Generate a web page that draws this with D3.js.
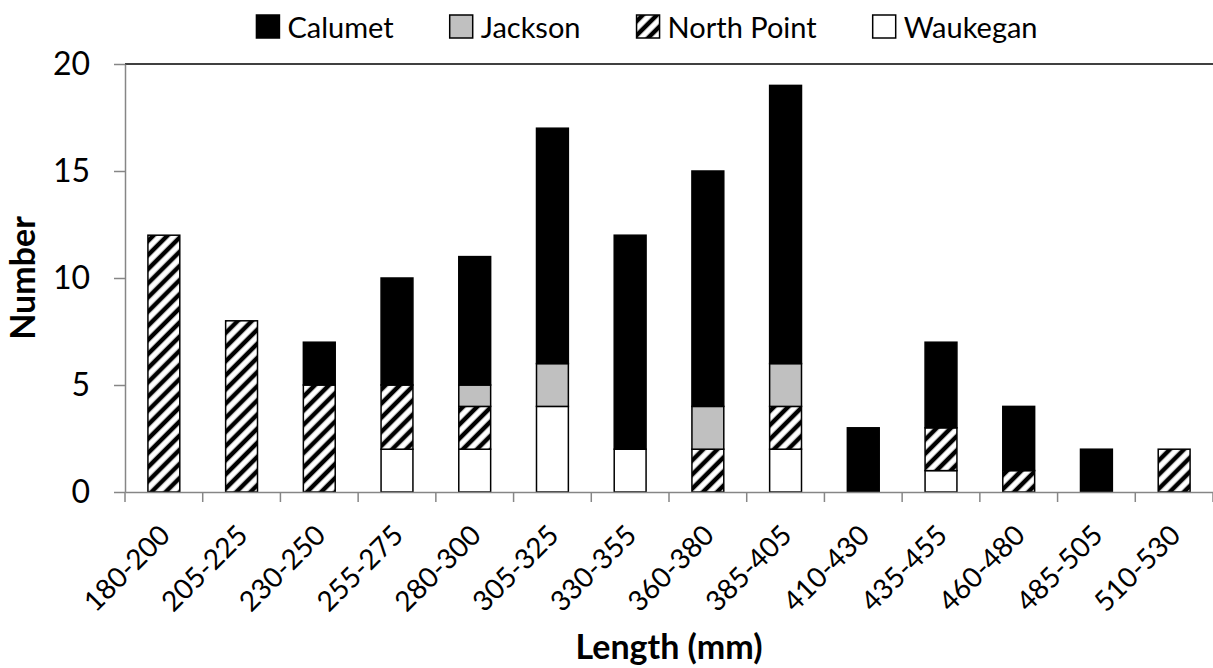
<!DOCTYPE html>
<html>
<head>
<meta charset="utf-8">
<script src="https://cdn.jsdelivr.net/npm/d3@7"></script>
<style>
  html, body { margin: 0; padding: 0; background: #fff; }
  svg { display: block; font-family: Lato, "Open Sans", sans-serif; }
</style>
</head>
<body>
<div id="chart"></div>
<script>
// 길이 구간별 개체 수 (지점별 누적 막대)
const categories = ['180-200', '205-225', '230-250', '255-275', '280-300', '305-325', '330-355',
                    '360-380', '385-405', '410-430', '435-455', '460-480', '485-505', '510-530'];
const waukegan   = [0, 0, 0, 2, 2, 4, 2, 0, 2, 0, 1, 0, 0, 0];
const northPoint = [12, 8, 5, 3, 2, 0, 0, 2, 2, 0, 2, 1, 0, 2];
const jackson    = [0, 0, 0, 0, 1, 2, 0, 2, 2, 0, 0, 0, 0, 0];
const calumet    = [0, 0, 2, 5, 6, 11, 10, 11, 13, 3, 4, 3, 2, 0];
const yTicks = [0, 5, 10, 15, 20];
const legendNames = ['Calumet', 'Jackson', 'North Point', 'Waukegan'];

const width = 1213, height = 668;
const margin = { top: 64, right: 0, bottom: 176, left: 125 };

// 누적 순서: 아래부터 Waukegan → North Point → Jackson → Calumet
const keys = ['Waukegan', 'North Point', 'Jackson', 'Calumet'];
const rows = categories.map((c, i) => ({
    cat: c,
    'Waukegan': waukegan[i],
    'North Point': northPoint[i],
    'Jackson': jackson[i],
    'Calumet': calumet[i]
}));
const series = d3.stack().keys(keys)(rows);

const fills = {
    'Calumet': '#000',
    'Jackson': '#c0c0c0',
    'North Point': 'url(#hatch)',
    'Waukegan': '#fff'
};

const svg = d3.select('#chart').append('svg')
    .attr('width', width)
    .attr('height', height);

// 사선 해칭 패턴
const pat = svg.append('defs').append('pattern')
    .attr('id', 'hatch')
    .attr('patternUnits', 'userSpaceOnUse')
    .attr('width', 10)
    .attr('height', 10)
    .attr('patternTransform', 'rotate(45)');
pat.append('rect').attr('width', 10).attr('height', 10).attr('fill', '#fff');
pat.append('line')
    .attr('x1', 5).attr('y1', 0).attr('x2', 5).attr('y2', 10)
    .attr('stroke', '#000').attr('stroke-width', 4.5);

const x = d3.scaleBand()
    .domain(categories)
    .range([margin.left, width - margin.right])
    .paddingInner(0.59)
    .paddingOuter(0.295);

const y = d3.scaleLinear()
    .domain([0, 20])
    .range([height - margin.bottom, margin.top]);

const axisColor = '#868686';

// 위쪽 테두리 선
svg.append('line')
    .attr('x1', margin.left).attr('x2', width)
    .attr('y1', y(20)).attr('y2', y(20))
    .attr('stroke', '#000').attr('stroke-width', 1.5);

// 막대
svg.append('g')
    .selectAll('g')
    .data(series)
    .join('g')
    .attr('fill', d => fills[d.key])
    .selectAll('rect')
    .data(d => d.filter(s => s[1] - s[0] > 0))
    .join('rect')
    .attr('x', d => x(d.data.cat))
    .attr('y', d => y(d[1]))
    .attr('width', x.bandwidth())
    .attr('height', d => y(d[0]) - y(d[1]))
    .attr('stroke', '#000')
    .attr('stroke-width', 1.5);

// Y축
const yAxis = svg.append('g')
    .attr('transform', `translate(${margin.left},0)`)
    .call(d3.axisLeft(y).tickValues(yTicks).tickSize(11).tickPadding(24).tickSizeOuter(0));
yAxis.select('.domain').attr('stroke', axisColor).attr('stroke-width', 1.5);
yAxis.selectAll('.tick line').attr('stroke', axisColor).attr('stroke-width', 1.5);
yAxis.selectAll('.tick text')
    .attr('font-size', 32)
    .attr('fill', '#000')
    .attr('font-family', 'Lato, sans-serif');

// X축 (눈금은 구간 경계에)
const xAxis = svg.append('g')
    .attr('transform', `translate(0,${y(0)})`)
    .call(d3.axisBottom(x).tickSize(0).tickSizeOuter(0));
xAxis.select('.domain').attr('stroke', axisColor).attr('stroke-width', 1.5);
xAxis.selectAll('.tick text')
    .attr('font-size', 28)
    .attr('fill', '#000')
    .attr('font-family', 'Lato, sans-serif')
    .attr('text-anchor', 'end')
    .attr('dy', null)
    .attr('y', null)
    .attr('transform', 'translate(8,45) rotate(-45)');

const gap = (x.step() - x.bandwidth()) / 2;
const bounds = categories.map(c => x(c) - gap).concat([x(categories[categories.length - 1]) + x.bandwidth() + gap]);
xAxis.selectAll('.bound')
    .data(bounds)
    .join('line')
    .attr('class', 'bound')
    .attr('x1', d => d).attr('x2', d => d)
    .attr('y1', 0).attr('y2', 10)
    .attr('stroke', axisColor)
    .attr('stroke-width', 1.5);

// 축 제목
svg.append('text')
    .attr('transform', `translate(35,${(y(0) + y(20)) / 2}) rotate(-90)`)
    .attr('text-anchor', 'middle')
    .attr('font-size', 34)
    .attr('font-weight', 'bold')
    .text('Number');

svg.append('text')
    .attr('x', 669)
    .attr('y', 659)
    .attr('text-anchor', 'middle')
    .attr('font-size', 34)
    .attr('font-weight', 'bold')
    .text('Length (mm)');

// 범례
const legend = svg.append('g').attr('class', 'legend');
let lx = 0;
legendNames.forEach(name => {
    const item = legend.append('g').attr('transform', `translate(${lx},0)`);
    item.append('rect')
        .attr('x', 0).attr('y', 15)
        .attr('width', 23).attr('height', 23)
        .attr('fill', fills[name])
        .attr('stroke', '#000')
        .attr('stroke-width', 1.5);
    const t = item.append('text')
        .attr('x', 31).attr('y', 38)
        .attr('font-size', 29)
        .text(name);
    lx += 31 + t.node().getComputedTextLength() + 56;
});
const lw = lx - 56;
legend.attr('transform', `translate(${647 - lw / 2},0)`);
</script>
</body>
</html>
